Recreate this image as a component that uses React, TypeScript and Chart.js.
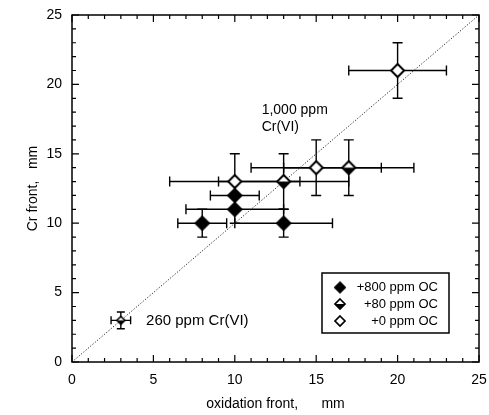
import React, { useEffect, useRef } from 'react';
import { Chart, registerables } from 'chart.js';

Chart.register(...registerables);

const FONT = '"Liberation Sans", Arial, Helvetica, sans-serif';

// ---- data ----
const seriesLabels = ['+800 ppm OC', '+80 ppm OC', '+0 ppm OC'];

const filledX = [8, 10, 10, 13];
const filledY = [10, 11, 12, 10];
const filledXErr = [1.5, 3, 1.5, 3];
const filledYErr = [1, 1, 1, 1];

const halfX = [13, 17, 3];
const halfY = [13, 14, 3];
const halfXErr = [4, 4, 0.6];
const halfYErr = [2, 2, 0.6];

const openX = [10, 15, 20];
const openY = [13, 14, 21];
const openXErr = [4, 4, 3];
const openYErr = [2, 2, 2];

const diagX = [0, 25];
const diagY = [0, 25];

const axisMin = 0;
const axisMax = 25;
const majorStep = 5;
const minorStep = 1;

const xTitle = 'oxidation front,      mm';
const yTitle = 'Cr front,   mm';

const noteTexts = ['1,000 ppm', 'Cr(VI)', '260 ppm Cr(VI)'];

function toPoints(xs: number[], ys: number[]) {
  return xs.map((x, i) => ({ x, y: ys[i] }));
}

function makeDiamond(r: number, kind: 'filled' | 'half' | 'open', lw: number) {
  const pad = lw + 1;
  const size = Math.ceil(2 * r + 2 * pad);
  const c = document.createElement('canvas');
  c.width = size;
  c.height = size;
  const ctx = c.getContext('2d')!;
  const cx = size / 2;
  const cy = size / 2;
  const path = () => {
    ctx.beginPath();
    ctx.moveTo(cx, cy - r);
    ctx.lineTo(cx + r, cy);
    ctx.lineTo(cx, cy + r);
    ctx.lineTo(cx - r, cy);
    ctx.closePath();
  };
  path();
  ctx.fillStyle = kind === 'filled' ? '#000' : '#fff';
  ctx.fill();
  if (kind === 'half') {
    ctx.beginPath();
    ctx.moveTo(cx - r, cy);
    ctx.lineTo(cx + r, cy);
    ctx.lineTo(cx, cy + r);
    ctx.closePath();
    ctx.fillStyle = '#000';
    ctx.fill();
  }
  path();
  ctx.lineWidth = lw;
  ctx.strokeStyle = '#000';
  ctx.lineJoin = 'miter';
  ctx.stroke();
  return c;
}

const errorBarsPlugin = {
  id: 'errorBars',
  beforeDatasetsDraw(chart: any) {
    const { ctx, scales } = chart;
    const xs = scales.x;
    const ys = scales.y;
    ctx.save();
    ctx.strokeStyle = '#000';
    ctx.lineWidth = 1.4;
    chart.data.datasets.forEach((ds: any) => {
      if (!ds.errX) return;
      ds.data.forEach((p: any, j: number) => {
        const ex = ds.errX[j];
        const ey = ds.errY[j];
        const cap = ds.capHalf ? ds.capHalf[j] : 5;
        const px = xs.getPixelForValue(p.x);
        const py = ys.getPixelForValue(p.y);
        const x1 = xs.getPixelForValue(p.x - ex);
        const x2 = xs.getPixelForValue(p.x + ex);
        const y1 = ys.getPixelForValue(p.y - ey);
        const y2 = ys.getPixelForValue(p.y + ey);
        ctx.beginPath();
        ctx.moveTo(x1, py);
        ctx.lineTo(x2, py);
        ctx.moveTo(x1, py - cap);
        ctx.lineTo(x1, py + cap);
        ctx.moveTo(x2, py - cap);
        ctx.lineTo(x2, py + cap);
        ctx.moveTo(px, y1);
        ctx.lineTo(px, y2);
        ctx.moveTo(px - cap, y1);
        ctx.lineTo(px + cap, y1);
        ctx.moveTo(px - cap, y2);
        ctx.lineTo(px + cap, y2);
        ctx.stroke();
      });
    });
    ctx.restore();
  },
};

const framePlugin = {
  id: 'frame',
  afterDatasetsDraw(chart: any) {
    const { ctx, chartArea, scales } = chart;
    const { left, right, top, bottom } = chartArea;
    ctx.save();
    ctx.strokeStyle = '#000';
    ctx.lineWidth = 1.5;
    ctx.strokeRect(left, top, right - left, bottom - top);
    ctx.lineWidth = 1.2;
    ctx.beginPath();
    for (let v = axisMin; v <= axisMax + 1e-9; v += minorStep) {
      const major = Math.abs(v % majorStep) < 1e-9;
      const len = major ? 7 : 4;
      const px = scales.x.getPixelForValue(v);
      const py = scales.y.getPixelForValue(v);
      ctx.moveTo(px, bottom);
      ctx.lineTo(px, bottom - len);
      ctx.moveTo(px, top);
      ctx.lineTo(px, top + len);
      ctx.moveTo(left, py);
      ctx.lineTo(left + len, py);
      ctx.moveTo(right, py);
      ctx.lineTo(right - len, py);
    }
    ctx.stroke();
    ctx.restore();
  },
};

const annotationsPlugin = {
  id: 'notes',
  afterDatasetsDraw(chart: any) {
    const { ctx, scales } = chart;
    const xs = scales.x;
    const ys = scales.y;
    ctx.save();
    ctx.fillStyle = '#000';
    ctx.textAlign = 'left';
    ctx.textBaseline = 'middle';
    ctx.font = `14px ${FONT}`;
    ctx.fillText(noteTexts[0], xs.getPixelForValue(11.65), ys.getPixelForValue(18.15));
    ctx.fillText(noteTexts[1], xs.getPixelForValue(11.65), ys.getPixelForValue(16.95));
    ctx.font = `15px ${FONT}`;
    ctx.fillText(noteTexts[2], xs.getPixelForValue(4.55), ys.getPixelForValue(2.95));
    ctx.restore();
  },
};

function makeLegendPlugin(markers: HTMLCanvasElement[]) {
  return {
    id: 'legendBox',
    afterDraw(chart: any) {
      const { ctx } = chart;
      ctx.save();
      ctx.strokeStyle = '#000';
      ctx.lineWidth = 1.5;
      ctx.fillStyle = '#fff';
      ctx.fillRect(322, 273, 127, 60);
      ctx.strokeRect(322, 273, 127, 60);
      ctx.fillStyle = '#000';
      ctx.font = `13px ${FONT}`;
      ctx.textAlign = 'right';
      ctx.textBaseline = 'middle';
      const rows = [287.5, 304, 321];
      seriesLabels.forEach((lab, i) => {
        const m = markers[i];
        ctx.drawImage(m, 340 - m.width / 2, rows[i] - m.height / 2);
        ctx.fillText(lab, 438, rows[i]);
      });
      ctx.restore();
    },
  };
}

export default function App() {
  const ref = useRef<HTMLCanvasElement | null>(null);

  useEffect(() => {
    if (!ref.current) return;
    Chart.defaults.font.family = FONT;
    Chart.defaults.color = '#000';

    const filledM = makeDiamond(7, 'filled', 1.5);
    const halfM = makeDiamond(6.5, 'half', 2);
    const halfSmall = makeDiamond(4, 'half', 1.5);
    const openM = makeDiamond(6.5, 'open', 2);
    const legendMarkers = [
      makeDiamond(5.5, 'filled', 1.2),
      makeDiamond(5, 'half', 1.7),
      makeDiamond(5, 'open', 1.7),
    ];

    const chart = new Chart(ref.current, {
      type: 'scatter',
      data: {
        datasets: [
          {
            label: 'diag',
            type: 'line',
            data: toPoints(diagX, diagY),
            borderColor: '#222',
            borderWidth: 1,
            borderDash: [1.2, 1.8],
            pointRadius: 0,
            fill: false,
            order: 10,
          } as any,
          {
            label: seriesLabels[0],
            data: toPoints(filledX, filledY),
            pointStyle: filledM,
            pointRadius: 7,
            errX: filledXErr,
            errY: filledYErr,
            order: 1,
          } as any,
          {
            label: seriesLabels[1],
            data: toPoints(halfX, halfY),
            pointStyle: [halfM, halfM, halfSmall],
            pointRadius: 7,
            errX: halfXErr,
            errY: halfYErr,
            capHalf: [5, 5, 4],
            order: 2,
          } as any,
          {
            label: seriesLabels[2],
            data: toPoints(openX, openY),
            pointStyle: openM,
            pointRadius: 7,
            errX: openXErr,
            errY: openYErr,
            order: 3,
          } as any,
        ],
      },
      options: {
        animation: false,
        responsive: false,
        devicePixelRatio: 1,
        events: [],
        layout: { padding: { top: 15, right: 10, left: 0, bottom: 0 } },
        plugins: {
          legend: { display: false },
          tooltip: { enabled: false },
        },
        scales: {
          x: {
            type: 'linear',
            min: axisMin,
            max: axisMax,
            grid: { display: false, drawTicks: false },
            border: { display: false },
            ticks: { stepSize: majorStep, padding: 10, font: { size: 14 }, color: '#000' },
            title: {
              display: true,
              text: xTitle,
              font: { size: 14 },
              color: '#000',
              padding: { top: 0, bottom: 2 },
            },
            afterFit(scale: any) {
              scale.height = 53;
              scale.paddingLeft = 0;
              scale.paddingRight = 0;
            },
          },
          y: {
            type: 'linear',
            min: axisMin,
            max: axisMax,
            grid: { display: false, drawTicks: false },
            border: { display: false },
            ticks: { stepSize: majorStep, padding: 10, font: { size: 14 }, color: '#000' },
            title: {
              display: true,
              text: yTitle,
              font: { size: 14 },
              color: '#000',
              padding: { top: 25, bottom: 0 },
            },
            afterFit(scale: any) {
              scale.width = 72;
              scale.paddingTop = 0;
              scale.paddingBottom = 0;
            },
          },
        },
      } as any,
      plugins: [errorBarsPlugin, framePlugin, annotationsPlugin, makeLegendPlugin(legendMarkers)],
    });

    return () => {
      chart.destroy();
    };
  }, []);

  return (
    <div style={{ position: 'absolute', left: 0, top: 0, width: 489, height: 415, background: '#fff' }}>
      <canvas ref={ref} width={489} height={415} />
    </div>
  );
}
